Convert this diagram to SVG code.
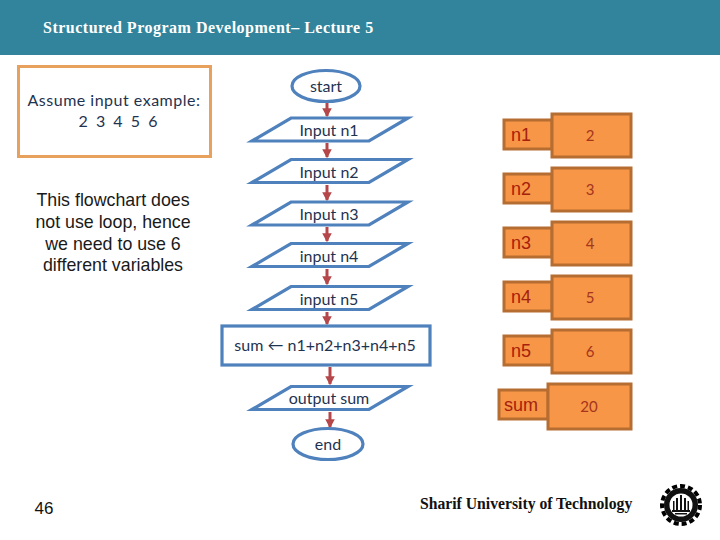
<svg xmlns="http://www.w3.org/2000/svg" width="720" height="540" viewBox="0 0 720 540">
<style>
.f{fill:#fff;stroke:#4f81bd;stroke-width:3.2}
.t{font-family:Lato,"Noto Sans",sans-serif;font-size:16px;fill:#1f3350;text-anchor:middle}
.c{stroke:#b5474a;stroke-width:3;fill:none;marker-end:url(#a)}
.o{fill:#f79646;stroke:#b66d31;stroke-width:3}
.n{font-family:"Liberation Sans",Arial,sans-serif;font-size:18px;fill:#a5210d;text-anchor:middle}
.v{font-family:Lato,"Noto Sans",sans-serif;font-size:15px;fill:#a5351d;text-anchor:middle}
</style>
<defs>
<marker id="a" markerWidth="4" markerHeight="4" refX="2.6" refY="2" orient="auto"><path d="M0 0.4L3 2L0 3.6Z" fill="#b5474a"/></marker>
<polygon id="p" points="252,141 291,118 408,118 369,141"/>
</defs>
<rect width="720" height="540" fill="#fff"/>
<rect width="720" height="55" fill="#31849b"/>
<text x="43" y="33" font-family="Liberation Serif,serif" font-weight="700" font-size="16" letter-spacing="0.5" fill="#fff">Structured Program Development– Lecture 5</text>
<g id="input-box">
<rect x="18.500" y="66.500" width="192" height="90" fill="#fff" stroke="#e8a15c" stroke-width="3"/>
<text class="t" x="114" y="106" letter-spacing="0.5">Assume input example:</text>
<text class="t" x="118" y="127" xml:space="preserve">2  3  4  5  6</text>
</g>
<g font-family="Liberation Sans,Arial,sans-serif" font-size="17.800" fill="#1a1a1a" text-anchor="middle">
<text x="113" y="206">This flowchart does</text>
<text x="113" y="228">not use loop, hence</text>
<text x="113" y="250">we need to use 6</text>
<text x="113" y="271">different variables</text>
</g>
<g id="connectors">
<path class="c" d="M327 102V116"/>
<path class="c" d="M327 143V157"/>
<path class="c" d="M327 185V200"/>
<path class="c" d="M327 227V241"/>
<path class="c" d="M327 269V284"/>
<path class="c" d="M327 312V324"/>
<path class="c" d="M330 367V384"/>
<path class="c" d="M330 412V427"/>
</g>
<g id="start"><ellipse class="f" cx="326" cy="86" rx="34" ry="15.500"/><text class="t" x="326" y="92">start</text></g>
<g id="in1"><use href="#p" class="f"/><text class="t" x="329" y="136">Input n1</text></g>
<g id="in2"><use href="#p" y="41.500" class="f"/><text class="t" x="329" y="178">Input n2</text></g>
<g id="in3"><use href="#p" y="84" class="f"/><text class="t" x="329" y="220">Input n3</text></g>
<g id="in4"><use href="#p" y="125.500" class="f"/><text class="t" x="329" y="262">input n4</text></g>
<g id="in5"><use href="#p" y="168.500" class="f"/><text class="t" x="329" y="305">input n5</text></g>
<g id="sum"><rect class="f" x="222" y="326" width="208" height="39"/><text class="t" x="325" y="351">sum ← n1+n2+n3+n4+n5</text></g>
<g id="out"><use href="#p" y="268.500" class="f"/><text class="t" x="329" y="404">output sum</text></g>
<g id="end"><ellipse class="f" cx="328" cy="444" rx="35" ry="15.500"/><text class="t" x="328" y="450">end</text></g>
<g id="r1"><rect class="o" x="504" y="120" width="48" height="29"/><rect class="o" x="552" y="114" width="79" height="43"/><text class="n" x="521" y="141">n1</text><text class="v" x="590" y="141">2</text></g>
<g id="r2"><rect class="o" x="504" y="174" width="48" height="29"/><rect class="o" x="552" y="168" width="79" height="43"/><text class="n" x="521" y="195">n2</text><text class="v" x="590" y="195">3</text></g>
<g id="r3"><rect class="o" x="504" y="228" width="48" height="29"/><rect class="o" x="552" y="222" width="79" height="43"/><text class="n" x="521" y="249">n3</text><text class="v" x="590" y="249">4</text></g>
<g id="r4"><rect class="o" x="504" y="282" width="48" height="29"/><rect class="o" x="552" y="276" width="79" height="43"/><text class="n" x="521" y="303">n4</text><text class="v" x="590" y="303">5</text></g>
<g id="r5"><rect class="o" x="504" y="336" width="48" height="29"/><rect class="o" x="552" y="330" width="79" height="43"/><text class="n" x="521" y="357">n5</text><text class="v" x="590" y="357">6</text></g>
<g id="r6"><rect class="o" x="499" y="390" width="49" height="29"/><rect class="o" x="548" y="384" width="83" height="45"/><text class="n" x="521" y="411">sum</text><text class="v" x="589" y="412">20</text></g>
<text x="44" y="514" font-family="Liberation Sans,Arial,sans-serif" font-size="17" fill="#111" text-anchor="middle">46</text>
<text x="420" y="509" font-family="Liberation Serif,serif" font-weight="700" font-size="15.700" fill="#111">Sharif University of Technology</text>
<g id="logo">
<circle cx="681" cy="505" r="19" fill="none" stroke="#000" stroke-width="4" stroke-dasharray="5 3"/>
<circle cx="681" cy="505" r="17" fill="#111"/>
<circle cx="681" cy="505" r="11.500" fill="#fff"/>
<path d="M680 495h2v15h-2zM676 498h2v12h-2zM684 498h2v12h-2zM673 501h1.500v9h-1.500zM687.500 501h1.500v9h-1.500zM672 510h18v2h-18zM675 513h12v1.500h-12z" fill="#111"/>
</g>
</svg>
